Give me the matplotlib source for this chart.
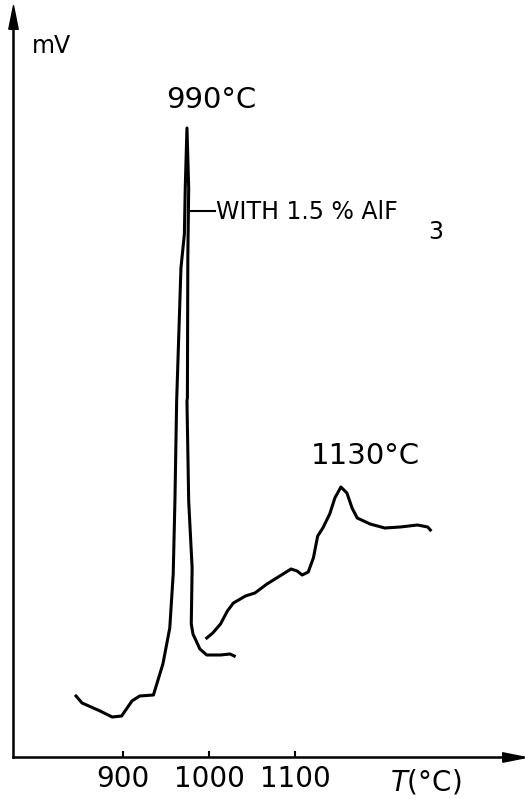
import matplotlib
matplotlib.use("Agg")
import matplotlib.pyplot as plt

# DTA trace (x in degC, y in mV, arbitrary scale)
peak_T = [845, 852, 873, 887, 898, 910, 919, 935, 946, 954, 958, 960, 962,
          967, 971, 972, 974, 976, 975, 974.5, 974, 976, 980, 979, 981,
          989, 997, 1013, 1024, 1029]
peak_mV = [61, 54, 46, 40, 41, 56, 61, 62, 93, 129, 183, 256, 356,
           489, 523, 569, 629, 569, 499, 359, 356, 256, 189, 133, 123,
           108, 102, 102, 103, 101]

high_T = [997, 1004, 1013, 1021, 1028, 1042, 1053, 1067, 1082, 1095, 1102,
          1108, 1115, 1121, 1126, 1132, 1140, 1146, 1153, 1160, 1166, 1172,
          1187, 1204, 1222, 1242, 1254, 1257]
high_mV = [119, 124, 133, 146, 154, 161, 164, 173, 181, 188, 186,
           182, 185, 199, 221, 229, 243, 259, 270, 264, 249, 239,
           233, 229, 230, 232, 230, 227]

xticks = [900, 1000, 1100]
xticklabels = ["900", "1000", "1100"]

W, H = 525, 799
fig = plt.figure(figsize=(W / 100, H / 100), dpi=100)
ax = fig.add_axes([13 / W, (H - 757) / H, (522 - 13) / W, (757 - 10) / H])

ax.plot(peak_T, peak_mV, color="black", lw=2.2, solid_joinstyle="round")
ax.plot(high_T, high_mV, color="black", lw=2.2, solid_joinstyle="round")

ax.set_xlim(771.7, 1363.6)
ax.set_ylim(0, 747)

for s in ["top", "right"]:
    ax.spines[s].set_visible(False)
for s in ["left", "bottom"]:
    ax.spines[s].set_linewidth(1.8)

# narrow arrow heads on the axes
up = [(-0.4, -1), (0.4, -1), (0, 1), (-0.4, -1)]
right = [(-1, -0.4), (-1, 0.4), (1, 0), (-1, -0.4)]
ax.plot([0], [0.99], marker=up, ms=17, color="black", transform=ax.transAxes, clip_on=False)
ax.plot([0.985], [0], marker=right, ms=17, color="black", transform=ax.transAxes, clip_on=False)

ax.set_yticks([])
ax.set_xticks(xticks)
ax.set_xticklabels(xticklabels, fontsize=20)
ax.tick_params(axis="x", direction="in", length=4, width=1.5, pad=6)

ax.text(793.8, 704, "mV", fontsize=17, ha="left", va="baseline")
ax.text(1002, 649, "990°C", fontsize=21, ha="center", va="baseline")
ax.text(1182, 293, "1130°C", fontsize=21, ha="center", va="baseline")

# leader line to the label of the peak
ax.plot([976, 1007], [546, 546], color="black", lw=1.5)
ax.text(1008, 538, "WITH 1.5 % AlF", fontsize=17, ha="left", va="baseline")
ax.text(1254, 518, "3", fontsize=17, ha="left", va="baseline")

ax.text(1210, -34, "$\\mathit{T}$(°C)", fontsize=20, ha="left", va="baseline")

fig.savefig("out.png", dpi=100)
